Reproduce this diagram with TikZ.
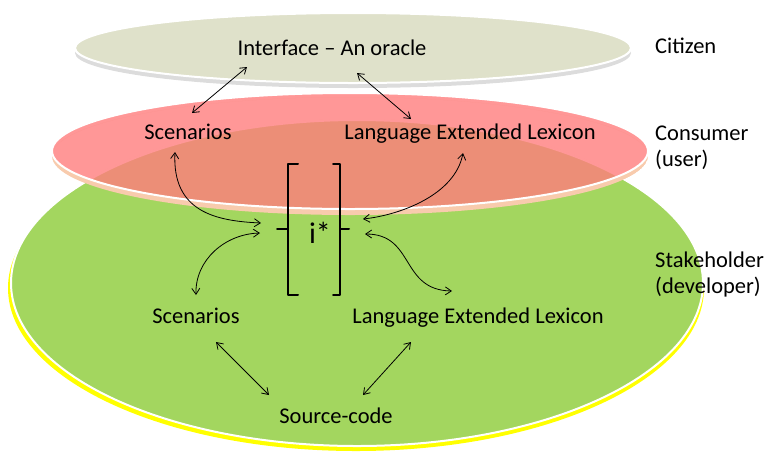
\documentclass[tikz,border=0pt]{standalone}
\usepackage{fontspec}
\setmainfont{Carlito}
\usetikzlibrary{arrows.meta}

\definecolor{citizenfill}{HTML}{DFE1CA}
\definecolor{citizenrim}{HTML}{DCDCDC}
\definecolor{consumerfill}{RGB}{255,125,125}
\definecolor{consumerrim}{HTML}{F8CBAD}
\definecolor{devfill}{HTML}{A3D65F}
\definecolor{devrim}{HTML}{FFFF00}

\tikzset{
  lbl/.style={font=\fontsize{22.5}{26.5}\selectfont, inner sep=0pt, anchor=base},
  side/.style={font=\fontsize{22.5}{26}\selectfont, inner sep=0pt, anchor=base west, align=left},
  link/.style={line width=0.8pt, {Straight Barb[length=6pt,width=8pt]}-{Straight Barb[length=6pt,width=8pt]}},
  brk/.style={line width=2pt, line join=round, line cap=round},
}

\begin{document}
\begin{tikzpicture}[x=1pt,y=-1pt]
\useasboundingbox (0,0) rectangle (765,451);

% stakeholder disc with its yellow rim
\fill[devrim] (356,288) ellipse [x radius=348pt, y radius=163pt];
\filldraw[fill=devfill, draw=white, line width=2pt] (357,283) ellipse [x radius=346pt, y radius=163pt];

% consumer disc: rim crescent, then translucent top
\begin{scope}
  \clip (350,156) ellipse [x radius=298pt, y radius=59pt];
  \fill[consumerrim, even odd rule] (350,156) ellipse [x radius=298pt, y radius=59pt]
        (350,151) ellipse [x radius=298pt, y radius=58pt];
\end{scope}
\fill[consumerfill, fill opacity=0.8] (350,151) ellipse [x radius=298pt, y radius=58pt];
\draw[white, line width=2pt] (350,151) ellipse [x radius=298pt, y radius=58pt];

% citizen disc
\fill[citizenrim] (353,53) ellipse [x radius=278pt, y radius=35pt];
\filldraw[fill=citizenfill, draw=white, line width=2pt] (353,48) ellipse [x radius=278pt, y radius=35pt];

% level names (base anchor sits on the last line)
\node[side] (cit) at (655,53) {Citizen};
\node[side] (con) at (655,166) {Consumer\\(user)};
\node[side] (stk) at (655,293) {Stakeholder\\(developer)};

% artefacts
\node[lbl] (iface) at (332,55) {Interface – An oracle};
\node[lbl] (rsc) at (188,139) {Scenarios};
\node[lbl] (rlel) at (470,139) {Language Extended Lexicon};
\node[lbl, font=\fontsize{30}{35}\selectfont] (istar) at (320,243) {i*};
\node[lbl] (gsc) at (196,323) {Scenarios};
\node[lbl] (glel) at (478,323) {Language Extended Lexicon};
\node[lbl] (src) at (336,423) {Source-code};

% brackets around i*
\draw[brk] (298,164) -- (288,164) -- (288,295) -- (298,295);
\draw[brk] (277,229) -- (288,229);
\draw[brk] (333,164) -- (340,164) -- (340,295) -- (333,295);
\draw[brk] (340,229) -- (349,229);

% relations
\draw[link] ([shift={(-85,12)}]iface.base) -- ([shift={(4,-26)}]rsc.base);
\draw[link] ([shift={(25,18)}]iface.base) -- ([shift={(-59,-20)}]rlel.base);
\draw[link] ([shift={(-13,13)}]rsc.base) .. controls +(-3,60) and +(-45,-2) .. ([shift={(-59,-20)}]istar.base);
\draw[link] ([shift={(-7,14)}]rlel.base) .. controls +(-8,42) and +(37,-4) .. ([shift={(43,-24)}]istar.base);
\draw[link] ([shift={(-60,-10)}]istar.base) .. controls +(-35,1) and +(-1,-35) .. ([shift={(0,-28)}]gsc.base);
\draw[link] ([shift={(45,-9)}]istar.base) .. controls +(50,0) and +(-52,-1) .. ([shift={(-26,-32)}]glel.base);
\draw[link] ([shift={(20,19)}]gsc.base) -- ([shift={(-67,-28)}]src.base);
\draw[link] ([shift={(-67,19)}]glel.base) -- ([shift={(27,-28)}]src.base);
\end{tikzpicture}
\end{document}
